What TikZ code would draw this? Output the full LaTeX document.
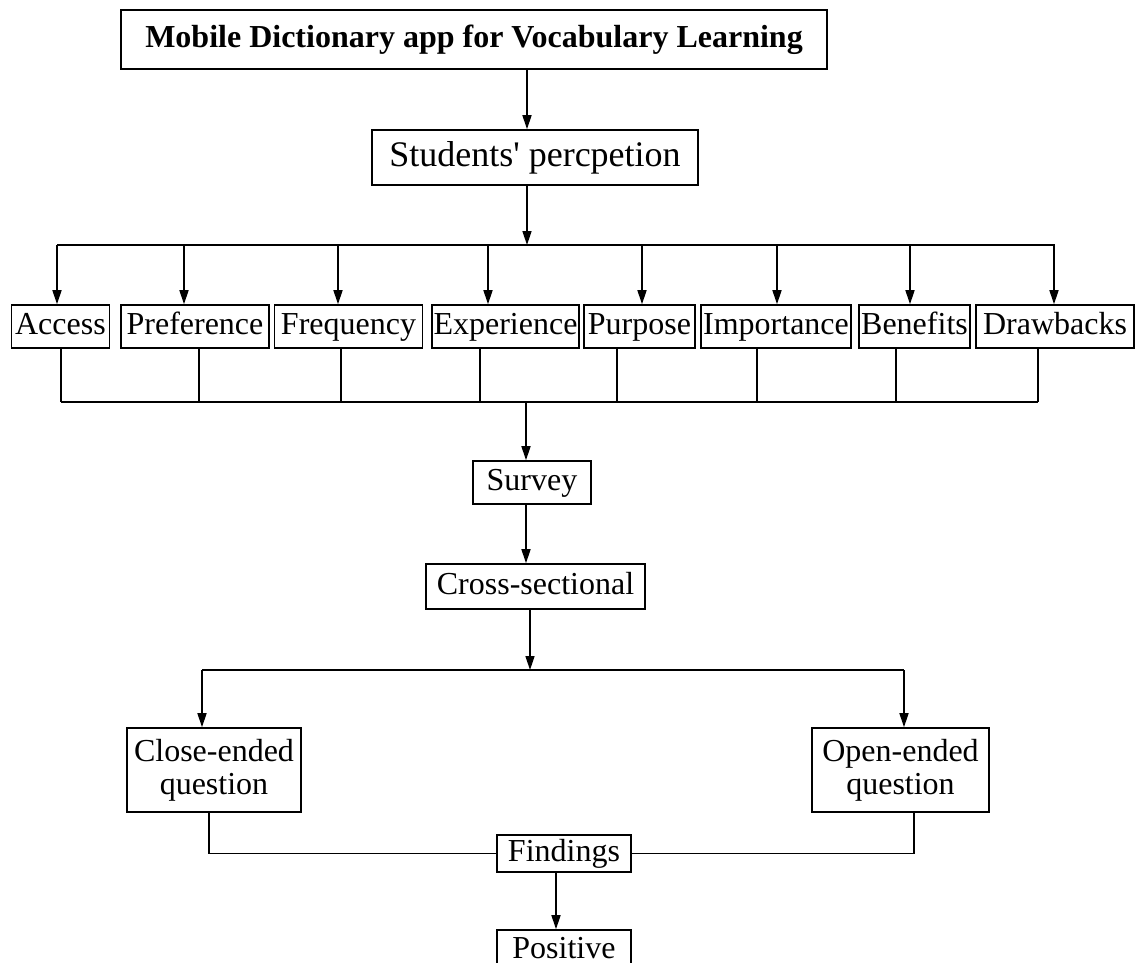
\documentclass[tikz,border=0pt]{standalone}
\usepackage{fontspec}
\setmainfont{Liberation Serif}
\usetikzlibrary{arrows.meta,calc}
\begin{document}
\begin{tikzpicture}[x=1pt,y=-1pt,
  base/.style={draw, line width=1.6pt, inner sep=0pt, align=center, font=\fontsize{32}{33}\selectfont},
  box/.style={base, text height=22pt, text depth=7pt},
  twoline/.style={base},
  arr/.style={line width=1.6pt, -{Triangle[length=14pt,width=9pt]}},
  ln/.style={line width=1.6pt}]
\useasboundingbox (0,0) rectangle (1137,962);
% nodes
\node[box, minimum width=706pt, minimum height=59pt, font=\bfseries\fontsize{32}{33}\selectfont] (title) at (474,39.5) {Mobile Dictionary app for Vocabulary Learning};
\node[box, minimum width=326pt, minimum height=55pt, font=\fontsize{36}{38}\selectfont, text height=25pt, text depth=8pt] (students) at (535,157.5) {Students\textquotesingle\ percpetion};
\node[box, minimum width=98pt, minimum height=43pt] (access) at (60.4,326.5) {Access};
\node[box, minimum width=148pt, minimum height=43pt] (pref) at (195,326.5) {Preference};
\node[box, minimum width=148pt, minimum height=43pt] (freq) at (348.5,326.5) {Frequency};
\node[box, minimum width=147pt, minimum height=43pt] (exp) at (505.5,326.5) {Experience};
\node[box, minimum width=111pt, minimum height=43pt] (purp) at (639.5,326.5) {Purpose};
\node[box, minimum width=150pt, minimum height=43pt] (imp) at (776,326.5) {Importance};
\node[box, minimum width=111pt, minimum height=43pt] (ben) at (914.5,326.5) {Benefits};
\node[box, minimum width=158pt, minimum height=43pt] (draw) at (1055,326.5) {Drawbacks};
\node[box, minimum width=118pt, minimum height=43pt] (survey) at (532,482.5) {Survey};
\node[box, minimum width=219pt, minimum height=45pt] (cross) at (535.5,586.5) {Cross-sectional};
\node[twoline, minimum width=174pt, minimum height=84pt] (close) at (214,770) {Close-ended\\question};
\node[twoline, minimum width=177pt, minimum height=84pt] (open) at (900.5,770) {Open-ended\\question};
\node[box, minimum width=134pt, minimum height=37pt] (find) at (564,853.5) {Findings};
\node[box, minimum width=134pt, minimum height=40pt, text height=20pt, text depth=3pt] (pos) at (564,950) {Positive};
% coordinates
\coordinate (c1) at (527,0);
\coordinate (busT) at (527,245);
\coordinate (busTL) at (57,245);
\coordinate (busTR) at (1055,245);
\coordinate (busB) at (526,402);
\coordinate (busBL) at (61,402);
\coordinate (busBR) at (1038,402);
\coordinate (c2) at (530,0);
\coordinate (busC) at (530,670);
\coordinate (busCL) at (202,670);
\coordinate (busCR) at (904,670);
\coordinate (c3) at (556,0);
% connectors
\draw[arr] (title.south -| c1) -- (students.north -| c1);
\draw[arr] (students.south -| c1) -- (busT);
\draw[ln] (busTL) -- (busTR);
\foreach \n/\a/\b in {access/-3.4/0.6, pref/-11/4, freq/-10.5/-7.5, exp/-17.5/-25.5, purp/2.5/-22.5, imp/1/-19, ben/-4.5/-18.5, draw/-1/-17}{
  \draw[arr] ([xshift=\a pt]\n.north |- busT) -- ([xshift=\a pt]\n.north);
  \draw[ln] ([xshift=\b pt]\n.south) -- ([xshift=\b pt]\n.south |- busB);
}
\draw[ln] (busBL) -- (busBR);
\draw[arr] (busB) -- (survey.north -| busB);
\draw[arr] (survey.south -| busB) -- (cross.north -| busB);
\draw[arr] (cross.south -| c2) -- (busC);
\draw[ln] (busCL) -- (busCR);
\draw[arr] (busCL) -- (close.north -| busCL);
\draw[arr] (busCR) -- (open.north -| busCR);
\draw[ln] ([xshift=-5pt]close.south) |- (find.west);
\draw[ln] ([xshift=13.5pt]open.south) |- (find.east);
\draw[arr] (find.south -| c3) -- (pos.north -| c3);
\end{tikzpicture}
\end{document}
